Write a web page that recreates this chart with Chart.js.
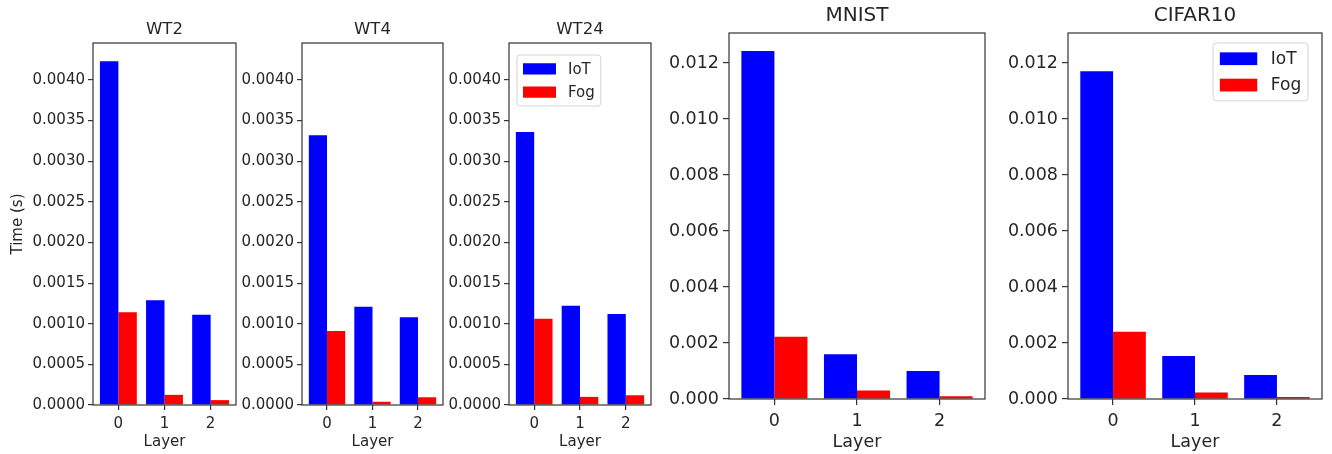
<!DOCTYPE html>
<html>
<head>
<meta charset="utf-8">
<script src="https://cdn.jsdelivr.net/npm/chart.js@4.4.0/dist/chart.umd.min.js"></script>
<style>
  html, body { margin: 0; padding: 0; background: #fff; }
  #fig { position: relative; width: 1332px; height: 454px; overflow: hidden; }
  #fig canvas { position: absolute; top: 0; }
</style>
</head>
<body>
<div id="fig">
  <canvas id="wt2"></canvas>
  <canvas id="wt4"></canvas>
  <canvas id="wt24"></canvas>
  <canvas id="mnist"></canvas>
  <canvas id="cifar"></canvas>
</div>
<script>
// data (seconds)
const layers = [0, 1, 2];
const seriesNames = ['IoT', 'Fog'];

const wt2Iot = [0.00423, 0.00129, 0.00111];
const wt2Fog = [0.00114, 0.000125, 0.00006];
const wt4Iot = [0.00332, 0.00121, 0.00108];
const wt4Fog = [0.00091, 0.00004, 0.000095];
const wt24Iot = [0.00336, 0.00122, 0.00112];
const wt24Fog = [0.00106, 0.0001, 0.00012];
const mnistIot = [0.01243, 0.0016, 0.001];
const mnistFog = [0.00222, 0.0003, 0.0001];
const cifarIot = [0.0117, 0.00154, 0.00086];
const cifarFog = [0.0024, 0.00023, 0.00007];

// tick labels
const wtTicks = [0, 0.0005, 0.001, 0.0015, 0.002, 0.0025, 0.003, 0.0035, 0.004];
const imgTicks = [0, 0.002, 0.004, 0.006, 0.008, 0.01, 0.012];

const FONT = '"DejaVu Sans", sans-serif';
const INK = '#262626';
const H = 454;

// box around the plot area, like matplotlib spines
const framePlugin = {
  id: 'frame',
  afterDatasetsDraw(chart) {
    const { ctx, chartArea: a } = chart;
    ctx.save();
    ctx.strokeStyle = '#333';
    ctx.lineWidth = 1.2;
    ctx.strokeRect(a.left, a.top, a.width, a.height);
    ctx.restore();
  }
};

// legend drawn inside the axes
const innerLegendPlugin = {
  id: 'innerLegend',
  afterDraw(chart, args, opts) {
    const { ctx, chartArea } = chart;
    const f = opts.size;
    ctx.save();
    ctx.font = f + 'px ' + FONT;
    const items = chart.data.datasets.map(d => ({ text: d.label, color: d.backgroundColor }));
    const textW = Math.max(...items.map(it => ctx.measureText(it.text).width));
    const padX = 0.4 * f, patchW = 2.2 * f, patchH = 0.75 * f, gap = 0.8 * f;
    const rowH = 1.55 * f, padY = 0.15 * f;
    const w = padX + patchW + gap + textW + padX;
    const h = padY * 2 + rowH * items.length;
    const x0 = opts.corner === 'right' ? chartArea.right - opts.dx - w : chartArea.left + opts.dx;
    const y0 = chartArea.top + opts.dy;

    ctx.beginPath();
    ctx.roundRect(x0, y0, w, h, 0.2 * f);
    ctx.fillStyle = 'rgba(255,255,255,0.8)';
    ctx.fill();
    ctx.strokeStyle = '#d4d4d4';
    ctx.lineWidth = 1;
    ctx.stroke();

    items.forEach((it, i) => {
      const cy = y0 + padY + rowH * (i + 0.5);
      ctx.fillStyle = it.color;
      ctx.fillRect(x0 + padX, cy - patchH / 2, patchW, patchH);
      ctx.fillStyle = INK;
      ctx.textBaseline = 'middle';
      ctx.textAlign = 'left';
      ctx.fillText(it.text, x0 + padX + patchW + gap, cy + 1);
    });
    ctx.restore();
  }
};

const panels = [
  { id: 'wt2', title: 'WT2', iot: wt2Iot, fog: wt2Fog, yTicks: wtTicks, dec: 4, yMax: 0.004455,
    plotLeft: 93, plotWidth: 143, yw: 93, plotBottom: 405,
    fs: 15, tfs: 16.5, tl: 5, pad: 3, titlePad: { top: 20, bottom: 3.2 }, ylabel: 'Time (s)' },
  { id: 'wt4', title: 'WT4', iot: wt4Iot, fog: wt4Fog, yTicks: wtTicks, dec: 4, yMax: 0.004455,
    plotLeft: 302, plotWidth: 141, yw: 75, plotBottom: 405,
    fs: 15, tfs: 16.5, tl: 5, pad: 3, titlePad: { top: 20, bottom: 3.2 } },
  { id: 'wt24', title: 'WT24', iot: wt24Iot, fog: wt24Fog, yTicks: wtTicks, dec: 4, yMax: 0.004455,
    plotLeft: 509, plotWidth: 142, yw: 75, plotBottom: 405,
    fs: 15, tfs: 16.5, tl: 5, pad: 3, titlePad: { top: 20, bottom: 3.2 },
    legend: { corner: 'left', dx: 8, dy: 12, size: 15 } },
  { id: 'mnist', title: 'MNIST', iot: mnistIot, fog: mnistFog, yTicks: imgTicks, dec: 3, yMax: 0.01307,
    plotLeft: 729, plotWidth: 256, yw: 75, plotBottom: 399,
    fs: 17.5, tfs: 20, tl: 6, pad: 4, titlePad: { top: 3.5, bottom: 5.5 } },
  { id: 'cifar', title: 'CIFAR10', iot: cifarIot, fog: cifarFog, yTicks: imgTicks, dec: 3, yMax: 0.01307,
    plotLeft: 1068, plotWidth: 254, yw: 75, plotBottom: 399,
    fs: 17.5, tfs: 20, tl: 6, pad: 4, titlePad: { top: 3.5, bottom: 5.5 },
    legend: { corner: 'right', dx: 14, dy: 10, size: 17 } }
];

function makePanel(p) {
  const canvas = document.getElementById(p.id);
  canvas.width = p.yw + p.plotWidth + 3;
  canvas.height = H;
  canvas.style.left = (p.plotLeft - p.yw) + 'px';

  const toPoints = vals => layers.map((l, i) => ({ x: l, y: vals[i] }));
  const lh = p.fs * 1.2;

  new Chart(canvas, {
    type: 'bar',
    data: {
      datasets: [
        { label: seriesNames[0], data: toPoints(p.iot), backgroundColor: '#0000ff', borderWidth: 0 },
        { label: seriesNames[1], data: toPoints(p.fog), backgroundColor: '#ff0000', borderWidth: 0 }
      ]
    },
    options: {
      responsive: false,
      animation: false,
      devicePixelRatio: 1,
      layout: { padding: { left: 0, right: 3, top: 0, bottom: 0 } },
      datasets: { bar: { categoryPercentage: 0.8, barPercentage: 1.0 } },
      scales: {
        x: {
          type: 'linear',
          min: -0.55,
          max: 2.55,
          offset: false,
          afterBuildTicks: s => { s.ticks = layers.map(v => ({ value: v })); },
          afterFit: s => { s.height = H - p.plotBottom; },
          grid: { display: true, offset: false, drawOnChartArea: false, drawTicks: true,
                  tickLength: p.tl, tickColor: '#333', color: '#333', lineWidth: 1.2 },
          border: { display: false },
          ticks: { font: { family: FONT, size: p.fs }, color: INK, padding: p.pad + 2, maxRotation: 0,
                   callback: v => String(v) },
          title: { display: true, text: 'Layer', font: { family: FONT, size: p.fs }, color: INK,
                   padding: { top: 0, bottom: H - 442 - lh / 2 } }
        },
        y: {
          type: 'linear',
          min: 0,
          max: p.yMax,
          afterBuildTicks: s => { s.ticks = p.yTicks.map(v => ({ value: v })); },
          afterFit: s => { s.width = p.yw; },
          grid: { display: true, drawOnChartArea: false, drawTicks: true, tickLength: p.tl,
                  tickColor: '#333', color: '#333', lineWidth: 1.2 },
          border: { display: false },
          ticks: { font: { family: FONT, size: p.fs }, color: INK, padding: p.pad,
                   callback: v => Number(v).toFixed(p.dec) },
          title: p.ylabel
            ? { display: true, text: p.ylabel, font: { family: FONT, size: p.fs }, color: INK,
                padding: { top: 18 - lh / 2, bottom: 0 } }
            : { display: false }
        }
      },
      plugins: {
        legend: { display: false },
        tooltip: { enabled: false },
        title: { display: true, fullSize: false, text: p.title, color: INK,
                 font: { family: FONT, size: p.tfs, weight: 'normal' }, padding: p.titlePad },
        innerLegend: p.legend || false
      }
    },
    plugins: [framePlugin, innerLegendPlugin]
  });
}

panels.forEach(makePanel);
</script>
</body>
</html>
